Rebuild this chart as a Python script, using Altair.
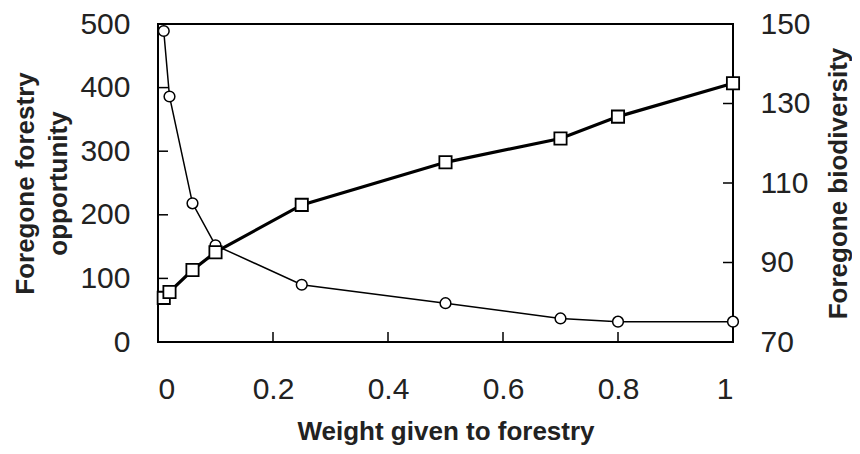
import altair as alt
import pandas as pd

weight = [0.01, 0.02, 0.06, 0.1, 0.25, 0.5, 0.7, 0.8, 1.0]
forestry = [489, 386, 218, 152, 90, 61, 37, 32, 32]
biodiversity = [81.1, 82.6, 88.1, 92.6, 104.5, 115.2, 121.2, 126.7, 135.1]

left_ticks = [100, 200, 300, 400]
right_ticks = [90, 110, 130]
bottom_ticks = [0.2, 0.4, 0.6, 0.8]

FONT = "Liberation Sans"
W, H = 575, 318
LABEL_SIZE = 30
TITLE_SIZE = 26

df = pd.DataFrame({"x": weight, "f": forestry, "b": biodiversity})
df_lt = pd.DataFrame({"f": left_ticks})
df_rt = pd.DataFrame({"b": right_ticks})
df_bt = pd.DataFrame({"x": bottom_ticks})

x_enc = alt.X(
    "x:Q",
    scale=alt.Scale(domain=[0, 1], nice=False, zero=False),
    axis=alt.Axis(
        values=[0, 0.2, 0.4, 0.6, 0.8, 1.0], format="~g", ticks=False, domain=False, grid=False,
        labelFont=FONT, labelFontSize=LABEL_SIZE, labelColor="#222", labelPadding=32,
        title="Weight given to forestry", titleFont=FONT, titleFontSize=TITLE_SIZE, titleFontWeight="bold",
        titleColor="#222", titleBaseline="alphabetic", titleY=97,
    ),
)

left_axis = alt.Axis(
    values=[0, 100, 200, 300, 400, 500], ticks=False, domain=False, grid=False,
    labelFont=FONT, labelFontSize=LABEL_SIZE, labelColor="#222", labelPadding=28,
    title=["Foregone forestry", "opportunity"], titleFont=FONT, titleFontSize=TITLE_SIZE,
    titleFontWeight="bold", titleColor="#222", titleAngle=270, titleAlign="center",
    titleBaseline="alphabetic", titleLineHeight=33, titleX=-125, titleY=H / 2,
)
right_axis = alt.Axis(
    values=[70, 90, 110, 130, 150], ticks=False, domain=False, grid=False,
    labelFont=FONT, labelFontSize=LABEL_SIZE, labelColor="#222", labelPadding=27, labelAlign="left",
    title="Foregone biodiversity", titleFont=FONT, titleFontSize=TITLE_SIZE,
    titleFontWeight="bold", titleColor="#222", titleAngle=270, titleAlign="center",
    titleBaseline="alphabetic", titleX=113, titleY=H / 2,
)

y_left = alt.Y("f:Q", scale=alt.Scale(domain=[0, 500], nice=False), axis=left_axis)
y_right = alt.Y("b:Q", scale=alt.Scale(domain=[70, 150], nice=False, zero=False), axis=right_axis)

base = alt.Chart(df)
c_line = base.mark_line(color="black", strokeWidth=1.5).encode(x=x_enc, y=y_left)
c_pts = base.mark_point(shape="circle", filled=True, color="white", stroke="black",
                        strokeWidth=1.5, size=115, opacity=1).encode(x=x_enc, y=y_left)
l_ticks = alt.Chart(df_lt).mark_rule(color="black", strokeWidth=1.5).encode(
    y=y_left, x=alt.value(0), x2=alt.value(10))

s_line = base.mark_line(color="black", strokeWidth=3.2).encode(x=x_enc, y=y_right)
s_pts = base.mark_point(shape="square", filled=True, color="white", stroke="black",
                        strokeWidth=1.8, size=150, opacity=1).encode(x=x_enc, y=y_right)
r_ticks = alt.Chart(df_rt).mark_rule(color="black", strokeWidth=1.5).encode(
    y=y_right, x=alt.value(W - 10), x2=alt.value(W))

b_ticks = alt.Chart(df_bt).mark_rule(color="black", strokeWidth=1.5).encode(
    x=x_enc, y=alt.value(H - 10), y2=alt.value(H))

left = alt.layer(c_line, c_pts, l_ticks)
right = alt.layer(s_line, s_pts, r_ticks)

chart = (
    alt.layer(left, right, b_ticks)
    .resolve_scale(y="independent")
    .properties(
        width=W, height=H,
        autosize=alt.AutoSizeParams(type="none"),
        padding={"left": 150, "top": 16, "right": 119, "bottom": 104},
        background="white",
    )
    .configure_view(stroke="black", strokeWidth=2)
)

chart.save("out.html", embed_options={"renderer": "svg", "actions": False})
